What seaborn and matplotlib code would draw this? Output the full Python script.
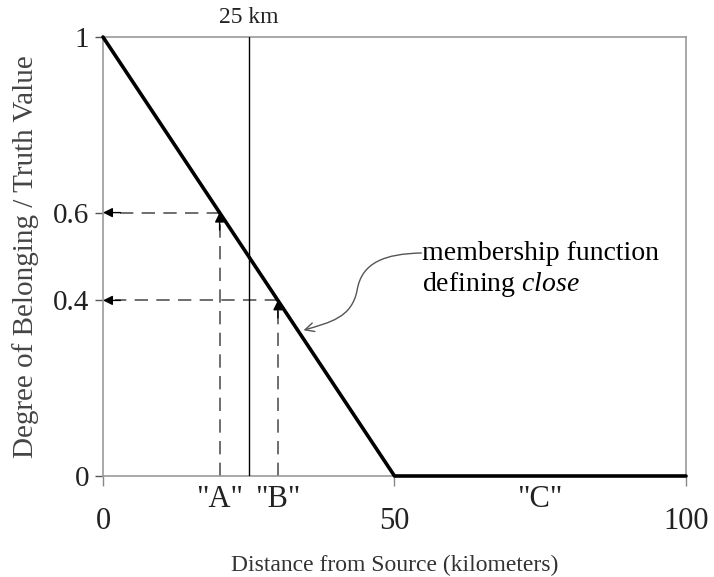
import numpy as np
import pandas as pd
import matplotlib
matplotlib.use("Agg")
import matplotlib.pyplot as plt
import seaborn as sns
from matplotlib.path import Path
from matplotlib.patches import FancyArrowPatch

# datos de la función de pertenencia "close"
distancia = [0, 50, 100]
pertenencia = [1.0, 0.0, 0.0]

# puntos de ejemplo A y B
puntos_x = [20, 30]
puntos_y = [0.6, 0.4]
etiquetas_puntos = ['"A"', '"B"']
etiqueta_c_x = 75
etiqueta_c = '"C"'

linea_km = 25
xticks = [0, 50, 100]
yticks = [0, 0.4, 0.6, 1]
yticklabels = ["0", "0.4", "0.6", "1"]

sns.set_theme(style="white")
plt.rcParams['font.family'] = ['Liberation Serif', 'DejaVu Serif']
plt.rcParams['mathtext.fontset'] = 'custom'
plt.rcParams['mathtext.it'] = 'Liberation Serif:italic'
plt.rcParams['mathtext.rm'] = 'Liberation Serif'

fig, ax = plt.subplots(figsize=(7.14, 5.77), dpi=100)
fig.subplots_adjust(left=103/714, right=686/714, top=1-37/577, bottom=1-476/577)

df = pd.DataFrame({"distancia": distancia, "pertenencia": pertenencia})
sns.lineplot(data=df, x="distancia", y="pertenencia", color="black", lw=2.6, ax=ax, zorder=5, clip_on=False)

# línea de 25 km
ax.plot([linea_km, linea_km], [0, 1], color="black", lw=1, zorder=3)
ax.text(linea_km, 1.02, "25 km", ha="center", va="bottom", fontsize=17, color="#222222")

# líneas discontinuas con flechas
for px, py in zip(puntos_x, puntos_y):
    ax.plot([px, px], [0, py - 0.02], color="#555555", lw=1.2, ls=(0, (8, 5)), zorder=2)
    ax.plot([px, 2.0], [py, py], color="#555555", lw=1.2, ls=(0, (8, 5)), zorder=2)
    ax.annotate("", xy=(px, py), xytext=(px, py - 0.04),
                arrowprops=dict(arrowstyle="-|>", color="black", lw=1, mutation_scale=14, shrinkA=0, shrinkB=0))
    ax.annotate("", xy=(0, py), xytext=(3, py),
                arrowprops=dict(arrowstyle="-|>", color="black", lw=1, mutation_scale=14, shrinkA=0, shrinkB=0),
                annotation_clip=False)

# etiquetas A, B, C
for px, lab in zip(puntos_x, etiquetas_puntos):
    ax.text(px, -0.02, lab, ha="center", va="top", fontsize=22, color="#222222")
ax.text(etiqueta_c_x, -0.02, etiqueta_c, ha="center", va="top", fontsize=22, color="#222222")

# anotación con flecha curva en S
ax.text(54.8, 0.47, "membership function\ndefining $\\mathit{close}$",
        ha="left", va="center", fontsize=20, color="black", linespacing=1.2)
curva = Path([(54.6, 0.508), (48.4, 0.506), (44.4, 0.487), (43.6, 0.424),
              (42.7, 0.36), (38.9, 0.35), (34.4, 0.332)],
             [Path.MOVETO, Path.CURVE4, Path.CURVE4, Path.CURVE4,
              Path.CURVE4, Path.CURVE4, Path.CURVE4])
flecha = FancyArrowPatch(path=curva, arrowstyle="->", color="#555555", lw=1,
                         mutation_scale=16, transform=ax.transData)
ax.add_patch(flecha)

ax.set_xlim(0, 100)
ax.set_ylim(0, 1)
ax.set_xticks(xticks)
ax.set_xticklabels([str(v) for v in xticks], fontsize=22, color="#222222")
ax.set_yticks(yticks)
ax.set_yticklabels(yticklabels, fontsize=21, color="#222222")
ax.tick_params(axis="x", which="both", bottom=True, length=7, width=1, color="#888888", pad=15)
ax.tick_params(axis="y", which="both", left=True, length=6, width=1, color="#555555", pad=4)

for s in ax.spines.values():
    s.set_color("#999999")
    s.set_linewidth(1.2)

ax.set_xlabel("Distance from Source (kilometers)", fontsize=17, color="#333333", labelpad=14)
ax.set_ylabel("Degree of Belonging / Truth Value", fontsize=21, color="#444444", labelpad=10)

plt.savefig("out.png", dpi=100)
